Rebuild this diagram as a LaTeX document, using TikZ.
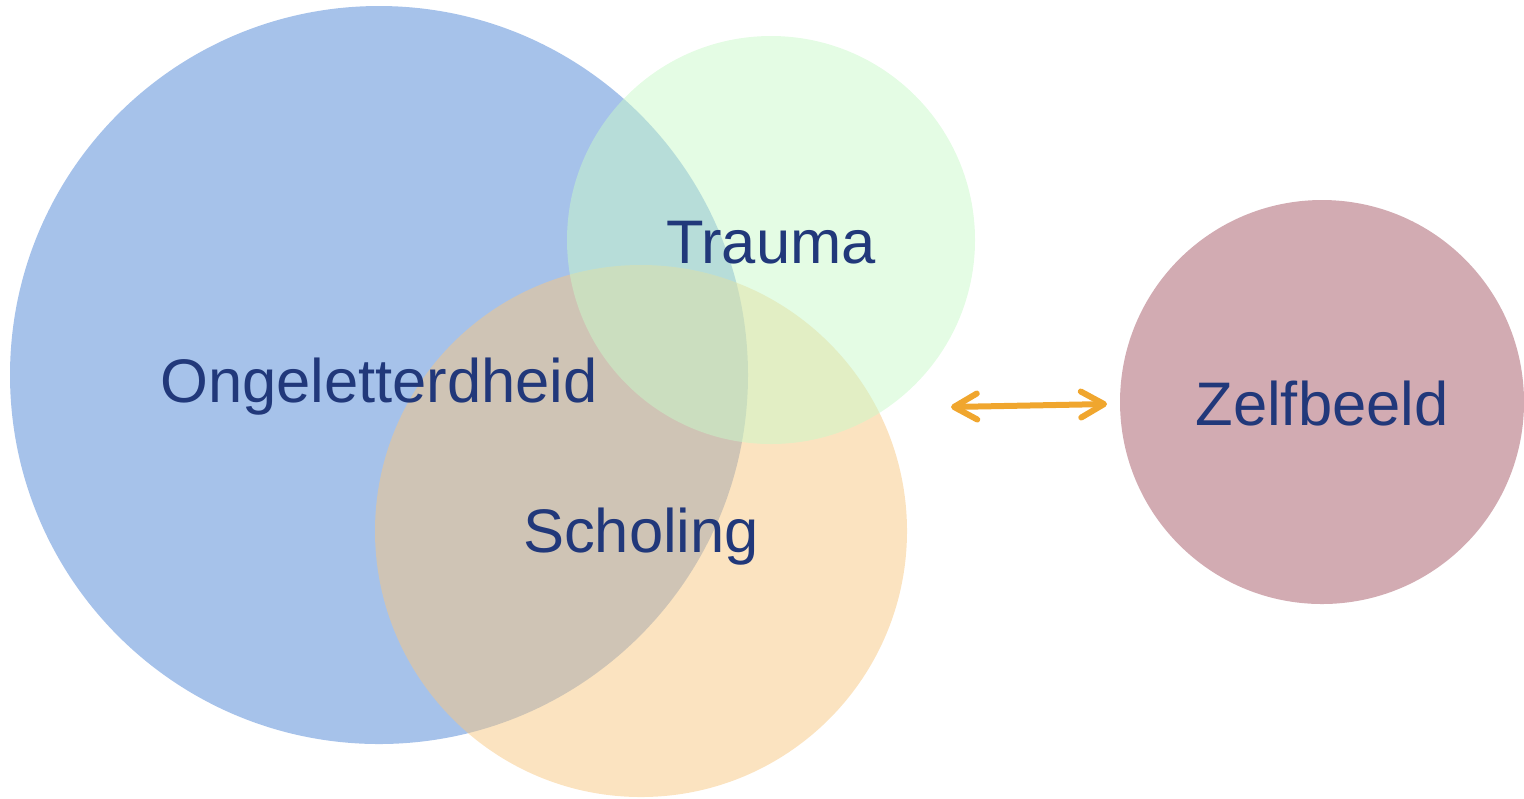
\documentclass[tikz,border=0pt]{standalone}
\usepackage{fontspec}
\setmainfont{Liberation Sans}
\usetikzlibrary{arrows.meta}
\definecolor{ongelblue}{RGB}{77,133,213}
\definecolor{traumagreen}{RGB}{201,249,201}
\definecolor{scholorange}{RGB}{248,200,130}
\definecolor{zelfpink}{RGB}{210,171,178}
\definecolor{labelnavy}{RGB}{33,56,122}
\definecolor{arroworange}{RGB}{240,166,46}
\tikzset{
    blob/.style={circle,inner sep=0pt,fill opacity=0.5},
    lbl/.style={text=labelnavy,font=\fontsize{17.5}{20}\selectfont},
    link/.style={draw=arroworange,line width=0.6mm,line cap=round,
        {Straight Barb[length=2.3mm,width=2.6mm,round]}-{Straight Barb[length=2.3mm,width=2.6mm,round]}}
}
\begin{document}
\begin{tikzpicture}[x=0.1mm,y=-0.1mm]
    \useasboundingbox (0,0) rectangle (1524,798);
    % circles
    \node[blob,fill=ongelblue,minimum size=73.8mm] (ongel) at (379,375) {};
    \node[blob,fill=scholorange,minimum size=53.2mm] (schol) at (641,531) {};
    \node[blob,fill=traumagreen,minimum size=40.8mm] (trauma) at (771,240) {};
    \node[circle,inner sep=0pt,fill=zelfpink,minimum size=40.4mm] (zelf) at (1322,402) {};
    % labels
    \node[lbl] (ongeltxt) at ([yshift=-1.2mm]ongel) {Ongeletterdheid};
    \node[lbl] (traumatxt) at ([yshift=-0.3mm]trauma) {Trauma};
    \node[lbl] (scholtxt) at ([yshift=-0.6mm]schol) {Scholing};
    \node[lbl] (zelftxt) at ([yshift=-0.1mm]zelf) {Zelfbeeld};
    % arrow
    \coordinate (linkl) at (951,407);
    \coordinate (linkr) at (1107,404);
    \draw[link] (linkl) -- (linkr);
\end{tikzpicture}
\end{document}
